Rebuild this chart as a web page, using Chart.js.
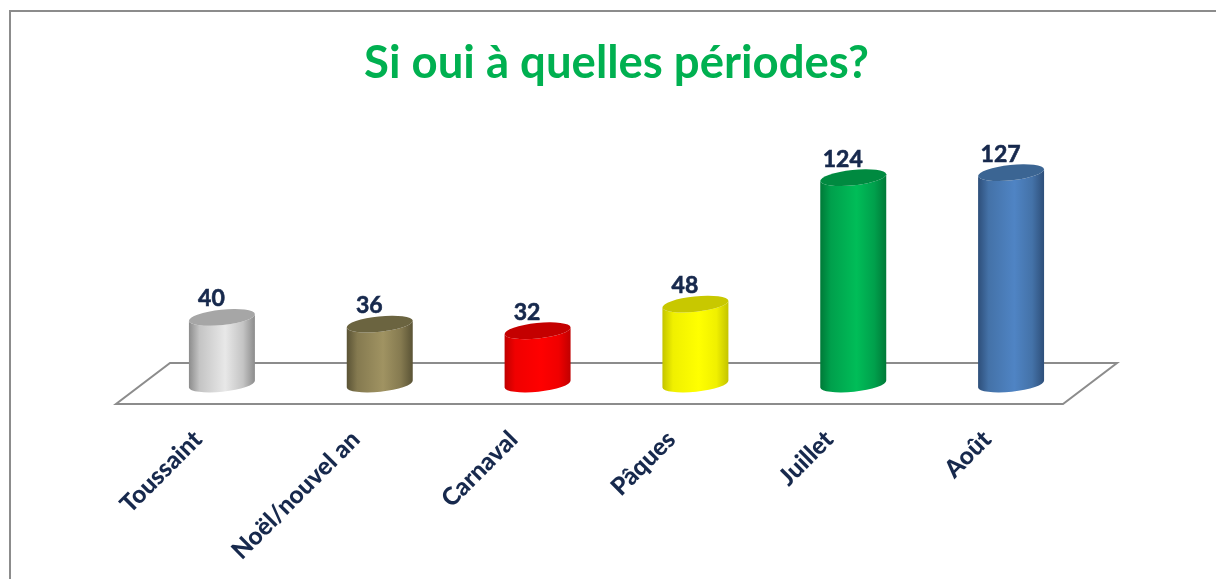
<!DOCTYPE html>
<html><head><meta charset="utf-8">
<style>html,body{margin:0;padding:0;background:#fff}canvas{display:block}</style>
<script src="https://cdn.jsdelivr.net/npm/chart.js@4/dist/chart.umd.js"></script>
</head><body><canvas id="c" width="1216" height="579"></canvas>
<script>
const categories = ["Toussaint","Noël/nouvel an","Carnaval","Pâques","Juillet","Août"];
const values = [40,36,32,48,124,127];
const lightColors = ["#e8e8e8","#a09362","#ff0000","#ffff00","#00bd58","#4f84c4"];
const midColors   = ["#c4c4c4","#857a50","#f00000","#f0f000","#00a04c","#4472a8"];
const edgeColors  = ["#8c8c8c","#5a5335","#c00000","#c4c400","#007a38","#2e4f7a"];
const topColors   = ["#a6a6a6","#6b6440","#c40000","#c8c800","#008a40","#3b6593"];
const titleText = "Si oui à quelles périodes?";
const FONT = "Lato, Carlito, sans-serif";
const TILT = -6 * Math.PI / 180, RY = 7.7;

// Cylinder look for the library's own bar elements
Chart.BarElement.prototype.draw = function (ctx) {
  const {x, y, base, width} = this.getProps(['x','y','base','width'], true);
  const i = this.$context ? this.$context.dataIndex : 0;
  const rx = width / 2 / Math.cos(TILT), dy = width / 2 * Math.tan(TILT);
  const g = ctx.createLinearGradient(x - width/2, 0, x + width/2, 0);
  g.addColorStop(0, edgeColors[i]);
  g.addColorStop(0.16, midColors[i]);
  g.addColorStop(0.55, lightColors[i]);
  g.addColorStop(0.82, midColors[i]);
  g.addColorStop(1, edgeColors[i]);
  ctx.save();
  ctx.beginPath();
  ctx.moveTo(x - width/2, y - dy);
  ctx.lineTo(x - width/2, base - dy);
  ctx.ellipse(x, base, rx, RY, TILT, Math.PI, 0, true);
  ctx.lineTo(x + width/2, y + dy);
  ctx.ellipse(x, y, rx, RY, TILT, 0, Math.PI, false);
  ctx.closePath();
  ctx.fillStyle = g;
  ctx.fill();
  ctx.beginPath();
  ctx.ellipse(x, y, rx, RY, TILT, 0, Math.PI * 2);
  ctx.fillStyle = topColors[i];
  ctx.fill();
  ctx.restore();
};

const decor = {
  id: 'decor',
  beforeDraw(chart) {
    const c = chart.ctx;
    c.save();
    c.fillStyle = '#fff';
    c.fillRect(0, 0, chart.width, chart.height);
    c.strokeStyle = '#8c8c8c';
    c.lineWidth = 2;
    c.beginPath();
    c.moveTo(10, chart.height);
    c.lineTo(10, 11);
    c.lineTo(chart.width, 11);
    c.stroke();
    c.restore();
  },
  beforeDatasetsDraw(chart) {
    const c = chart.ctx, a = chart.chartArea;
    c.save();
    c.strokeStyle = '#8c8c8c';
    c.lineWidth = 2;
    c.beginPath();
    c.moveTo(a.left + 27, a.bottom - 21);
    c.lineTo(a.right + 27, a.bottom - 21);
    c.lineTo(a.right - 27, a.bottom + 20);
    c.lineTo(a.left - 27, a.bottom + 20);
    c.closePath();
    c.stroke();
    c.restore();
  },
  afterDatasetsDraw(chart) {
    const c = chart.ctx;
    c.save();
    c.fillStyle = '#17294d';
    c.strokeStyle = '#17294d';
    c.lineWidth = 0.6;
    c.font = 'bold 23px ' + FONT;
    c.textAlign = 'center';
    c.textBaseline = 'middle';
    chart.getDatasetMeta(0).data.forEach((el, i) => {
      c.fillText(String(values[i]), el.x - 10.5, el.y - 18.5);
      c.strokeText(String(values[i]), el.x - 10.5, el.y - 18.5);
    });
    c.restore();
  }
};

new Chart(document.getElementById('c'), {
  type: 'bar',
  data: { labels: categories, datasets: [{ data: values, backgroundColor: lightColors, barPercentage: 1, categoryPercentage: 0.418, clip: false }] },
  plugins: [decor],
  options: {
    responsive: false,
    animation: false,
    layout: { padding: { left: 143, right: 126, top: 0, bottom: 0 } },
    plugins: {
      legend: { display: false },
      tooltip: { enabled: false },
      title: {
        display: true, text: titleText, color: '#00b050',
        font: { family: FONT, size: 45.5, weight: 'bold', lineHeight: 1.2 },
        padding: { top: 36, bottom: 60.4 }
      }
    },
    scales: {
      x: {
        grid: { display: false }, border: { display: false },
        afterFit(s) { s.height = 195; },
        ticks: {
          color: '#17294d', autoSkip: false, minRotation: 45, maxRotation: 45,
          font: { family: FONT, size: 24.5, weight: 900 },
          padding: 33, labelOffset: -24
        }
      },
      y: { display: false, min: 0, max: 140 }
    }
  }
});
</script></body></html>
